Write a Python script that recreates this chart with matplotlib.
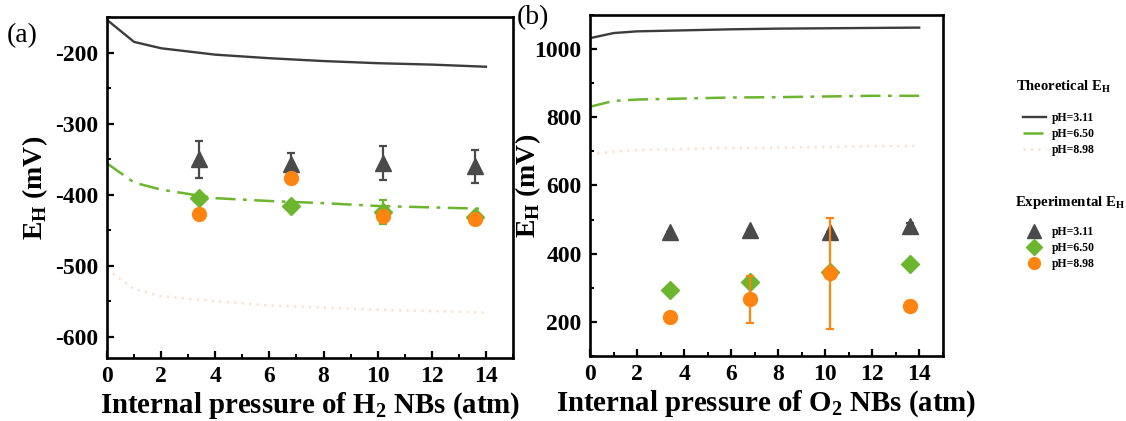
import matplotlib
matplotlib.use("Agg")
import matplotlib.pyplot as plt
from matplotlib.lines import Line2D
from matplotlib.ticker import MultipleLocator

plt.rcParams['font.family'] = ['Liberation Serif', 'DejaVu Serif']
plt.rcParams['font.weight'] = 'bold'
plt.rcParams['axes.unicode_minus'] = False

# Theoretical curves (x in atm)
x_theory = [0, 1, 2, 4, 6, 8, 10, 12, 14]
h2_theory_311 = [-154, -185, -194, -203, -208, -212, -215, -217, -220]
h2_theory_650 = [-356, -383, -393, -405, -409, -412, -416, -418, -420]
h2_theory_898 = [-505, -533, -543, -550, -556, -559, -562, -564, -566]

o2_theory_311 = [1032, 1047, 1052, 1055, 1058, 1060, 1061, 1062, 1063]
o2_theory_650 = [831, 848, 852, 855, 858, 859, 861, 863, 863]
o2_theory_898 = [692, 699, 704, 707, 710, 711, 713, 715, 716]

# Experimental points
x_exp = [3.4, 6.8, 10.2, 13.6]
h2_exp_311 = [-350, -357, -356, -360]
h2_err_311 = [26, 16, 24, 23]
h2_exp_650 = [-405, -416, -424, -431]
h2_err_650 = [0, 0, 17, 0]
h2_exp_898 = [-427, -377, -430, -435]
h2_err_898 = [0, 0, 0, 0]

o2_exp_311 = [464, 469, 464, 481]
o2_err_311 = [0, 0, 0, 10]
o2_exp_650 = [293, 317, 347, 369]
o2_err_650 = [0, 0, 0, 0]
o2_exp_898 = [213, 266, 342, 246]
o2_err_898 = [0, 69, 162, 15]

c_dark = '#3c3c3c'
c_tri = '#4a4a4a'
c_green = '#6cb52f'
c_orange = '#ff8410'
c_peach = '#fddfc8'

ls_dashdot = (0, (8, 3, 1.5, 3))
ls_dotted = (0, (0.8, 2.2))

fig = plt.figure(figsize=(11.26, 4.21), dpi=100)
ax1 = fig.add_axes([0.0950, 0.1496, 0.3606, 0.810])
ax2 = fig.add_axes([0.5240, 0.1544, 0.3132, 0.810])


def style_axes(ax):
    for s in ax.spines.values():
        s.set_linewidth(1.9)
    ax.xaxis.set_major_locator(MultipleLocator(2))
    ax.xaxis.set_minor_locator(MultipleLocator(1))
    ax.tick_params(which='both', direction='in', top=False, right=False)
    ax.tick_params(which='major', length=5, width=1.6, labelsize=17, pad=6)
    ax.tick_params(which='minor', length=3, width=1.4)
    for lab in ax.get_xticklabels() + ax.get_yticklabels():
        lab.set_fontweight('bold')


def draw_panel(ax, t311, t650, t898, e311, r311, e650, r650, e898, r898):
    ax.plot(x_theory, t311, color=c_dark, lw=1.7, ls='-')
    ax.plot(x_theory, t650, color=c_green, lw=1.8, ls=ls_dashdot)
    ax.plot(x_theory, t898, color=c_peach, lw=1.8, ls=ls_dotted)
    ax.errorbar(x_exp, e311, yerr=r311, fmt='^', color=c_tri, ms=12,
                elinewidth=1.6, capsize=3, capthick=1.6, zorder=4)
    ax.errorbar(x_exp, e650, yerr=r650, fmt='D', color=c_green, ms=9,
                elinewidth=1.6, capsize=3, capthick=1.6, zorder=4)
    ax.errorbar(x_exp, e898, yerr=r898, fmt='o', color=c_orange, ms=10,
                elinewidth=1.6, capsize=3, capthick=1.6, zorder=5)


draw_panel(ax1, h2_theory_311, h2_theory_650, h2_theory_898,
           h2_exp_311, h2_err_311, h2_exp_650, h2_err_650, h2_exp_898, h2_err_898)
ax1.set_xlim(0, 15)
ax1.set_ylim(-630, -150)
ax1.yaxis.set_major_locator(MultipleLocator(100))
ax1.yaxis.set_minor_locator(MultipleLocator(50))
style_axes(ax1)
ax1.set_xlabel(r'Internal pressure of H$_\mathregular{2}$ NBs (atm)',
               fontsize=20.8, fontweight='bold', labelpad=2)
ax1.set_ylabel(r'E$_\mathregular{H}$ (mV)', fontsize=20, fontweight='bold')
ax1.yaxis.set_label_coords(-0.14, 0.5)

draw_panel(ax2, o2_theory_311, o2_theory_650, o2_theory_898,
           o2_exp_311, o2_err_311, o2_exp_650, o2_err_650, o2_exp_898, o2_err_898)
ax2.set_xlim(0, 15)
ax2.set_ylim(100, 1100)
ax2.yaxis.set_major_locator(MultipleLocator(200))
ax2.yaxis.set_minor_locator(MultipleLocator(100))
style_axes(ax2)
ax2.set_xlabel(r'Internal pressure of O$_\mathregular{2}$ NBs (atm)',
               fontsize=20.8, fontweight='bold', labelpad=2)
ax2.set_ylabel(r'E$_\mathregular{H}$ (mV)', fontsize=20, fontweight='bold')
ax2.yaxis.set_label_coords(-0.133, 0.5)

fig.text(0.006, 0.915, '(a)', fontsize=20, fontweight='normal', va='center')
fig.text(0.459, 0.958, '(b)', fontsize=20, fontweight='normal', va='center')

# Legends to the right of panel (b)
fig.text(0.902, 0.793, r'Theoretical E$_\mathregular{H}$', fontsize=10.5,
         fontweight='bold', va='center')
fig.text(0.901, 0.520, r'Experimental E$_\mathregular{H}$', fontsize=10.7,
         fontweight='bold', va='center')

theory_handles = [
    Line2D([], [], color=c_dark, lw=1.7, ls='-'),
    Line2D([], [], color=c_green, lw=1.8, ls=ls_dashdot),
    Line2D([], [], color=c_peach, lw=1.8, ls=ls_dotted),
]
exp_handles = [
    Line2D([], [], color=c_tri, marker='^', ms=12, ls='none'),
    Line2D([], [], color=c_green, marker='D', ms=9, ls='none'),
    Line2D([], [], color=c_orange, marker='o', ms=10, ls='none'),
]
labels = ['pH=3.11', 'pH=6.50', 'pH=8.98']

leg_kw = dict(loc='upper left', frameon=False,
              prop={'size': 8.5, 'weight': 'bold'}, handlelength=1.95,
              handletextpad=0.5, labelspacing=0.35, borderaxespad=0)
fig.legend(theory_handles, labels, bbox_to_anchor=(0.904, 0.745), **leg_kw)
fig.legend(exp_handles, labels, bbox_to_anchor=(0.904, 0.475),
           markerscale=0.85, **leg_kw)

fig.savefig('out.png', dpi=100)
